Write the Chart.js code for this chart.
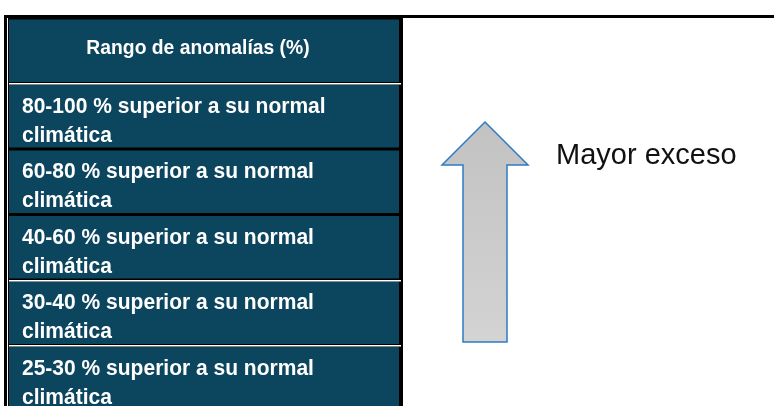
<!DOCTYPE html>
<html>
<head>
<meta charset="utf-8">
<script src="https://cdn.jsdelivr.net/npm/chart.js@4/dist/chart.umd.min.js"></script>
<style>
  html, body { margin: 0; padding: 0; background: #ffffff; overflow: hidden; }
  #wrap { width: 774px; height: 406px; overflow: hidden; position: relative; }
  canvas { display: block; }
</style>
</head>
<body>
<div id="wrap"><canvas id="c" width="774" height="414"></canvas></div>
<script>
// ---- data ----
const headerLabel = 'Rango de anomalías (%)';
const ranges = ['80-100', '60-80', '40-60', '30-40', '25-30'];
const rowSuffix = '% superior a su normal';
const rowSecondLine = 'climática';
const arrowLabel = 'Mayor exceso';
const categories = [headerLabel, ...ranges];
const cellValues = [1, 1, 1, 1, 1, 1]; // each cell spans the full column
// separators drawn white (index of the gap below row i)
const whiteGapsAfter = [0, 3, 4];

const TEAL = '#0c455e';

function narrowText(ctx, text, x, y, sx) {
  ctx.save();
  ctx.translate(x, y);
  ctx.scale(sx, 1);
  ctx.fillText(text, 0, 0);
  ctx.restore();
}

const tablePlugin = {
  id: 'tablePlugin',
  beforeDraw(chart) {
    const ctx = chart.ctx;
    const W = chart.width, H = chart.height;
    const a = chart.chartArea;
    ctx.save();
    ctx.fillStyle = '#ffffff';
    ctx.fillRect(0, 0, W, H);
    // black frame behind the table column
    ctx.fillStyle = '#000000';
    ctx.fillRect(4, 15, (a.right + 4) - 4, H - 15);
    // top border across whole width
    ctx.fillRect(4, 15, W - 4, 3);
    // inner white line of the double left border
    ctx.fillStyle = '#ffffff';
    ctx.fillRect(7, 18, 1, H - 18);
    ctx.restore();
  },
  afterDatasetsDraw(chart) {
    const ctx = chart.ctx;
    const a = chart.chartArea;
    const bars = chart.getDatasetMeta(0).data;
    ctx.save();
    // white separators
    ctx.fillStyle = '#ffffff';
    whiteGapsAfter.forEach(i => {
      const b = bars[i], n = bars[i + 1];
      if (!b || !n) return;
      const yb = b.y + b.height / 2;
      const yn = n.y - n.height / 2;
      const ym = Math.round((yb + yn) / 2 - 0.5);
      ctx.fillRect(a.left, ym, a.right - a.left + 2, 1.5);
    });
    // texts
    ctx.fillStyle = '#ffffff';
    ctx.textBaseline = 'alphabetic';
    bars.forEach((b, i) => {
      const top = b.y - b.height / 2;
      if (i === 0) {
        ctx.font = 'bold 21px "Liberation Sans", Arial, sans-serif';
        ctx.textAlign = 'center';
        narrowText(ctx, categories[0], 198, top + 35, 0.92);
      } else {
        ctx.font = 'bold 22px "Liberation Sans", Arial, sans-serif';
        ctx.textAlign = 'left';
        narrowText(ctx, categories[i] + ' ' + rowSuffix, 22, top + 28, 0.955);
        narrowText(ctx, rowSecondLine, 22, top + 57, 0.955);
      }
    });
    // arrow
    const tipX = 485, tipY = 122, headY = 165, headL = 442, headR = 528;
    const shL = 463, shR = 507, bot = 342;
    const g = ctx.createLinearGradient(0, tipY, 0, bot);
    g.addColorStop(0, '#c2c2c2');
    g.addColorStop(1, '#d3d3d3');
    ctx.beginPath();
    ctx.moveTo(tipX, tipY);
    ctx.lineTo(headR, headY);
    ctx.lineTo(shR, headY);
    ctx.lineTo(shR, bot);
    ctx.lineTo(shL, bot);
    ctx.lineTo(shL, headY);
    ctx.lineTo(headL, headY);
    ctx.closePath();
    ctx.fillStyle = g;
    ctx.fill();
    ctx.strokeStyle = '#2f7bc6';
    ctx.lineWidth = 1.5;
    ctx.lineJoin = 'miter';
    ctx.stroke();
    // label
    ctx.fillStyle = '#111111';
    ctx.textAlign = 'left';
    ctx.font = '29px "Liberation Sans", Arial, sans-serif';
    ctx.fillText(arrowLabel, 556, 164);
    ctx.restore();
  }
};

new Chart(document.getElementById('c'), {
  type: 'bar',
  data: {
    labels: categories,
    datasets: [{
      data: cellValues,
      backgroundColor: TEAL,
      borderWidth: 0,
      barPercentage: 0.955,
      categoryPercentage: 1.0
    }]
  },
  options: {
    indexAxis: 'y',
    responsive: false,
    animation: false,
    devicePixelRatio: 1,
    layout: { padding: { left: 9, right: 375, top: 18, bottom: 3 } },
    scales: {
      x: { display: false, min: 0, max: 1 },
      y: { display: false }
    },
    plugins: {
      legend: { display: false },
      tooltip: { enabled: false },
      title: { display: false }
    }
  },
  plugins: [tablePlugin]
});
</script>
</body>
</html>
